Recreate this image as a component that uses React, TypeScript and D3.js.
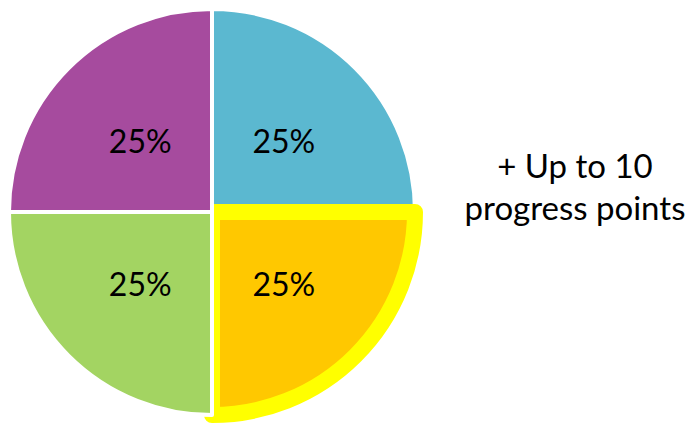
import React from "react";
import * as d3 from "d3";

const categories = ["Blue", "Gold", "Green", "Purple"];
const values = [25, 25, 25, 25];
const colors = ["#5BB8D0", "#FFC800", "#A3D462", "#A64B9E"];
const highlighted = "Gold";
const noteLines = ["+ Up to 10", "progress points"];

const W = 695;
const H = 425;
const cx = 212;
const cy = 212;
const R = 203;

export default function App() {
  const pie = d3.pie<number>().sort(null).value((d) => d)(values);
  const arc = d3.arc<d3.PieArcDatum<number>>().innerRadius(0).outerRadius(R);
  const total = d3.sum(values);
  return (
    <svg
      width={W}
      height={H}
      style={{ position: "absolute", left: 0, top: 0, background: "#fff" }}
      fontFamily="Lato, 'Open Sans', sans-serif"
    >
      <g transform={`translate(${cx},${cy})`}>
        {pie.map((p, i) => {
          const hi = categories[i] === highlighted;
          return (
            <path
              key={categories[i]}
              d={arc(p) || ""}
              fill={colors[i]}
              stroke={hi ? "#FFFF00" : "#FFFFFF"}
              strokeWidth={hi ? 16 : 4}
              strokeLinejoin="round"
            />
          );
        })}
        {pie.map((p, i) => {
          const [x, y] = arc.centroid(p);
          return (
            <text
              key={"l" + i}
              x={x}
              y={y}
              textAnchor="middle"
              dominantBaseline="central"
              fontSize={32}
              fill="#000"
            >
              {`${Math.round((values[i] / total) * 100)}%`}
            </text>
          );
        })}
      </g>
      {noteLines.map((t, i) => (
        <text
          key={t}
          x={575}
          y={178 + i * 42}
          textAnchor="middle"
          fontSize={33}
          fill="#000"
        >
          {t}
        </text>
      ))}
    </svg>
  );
}
